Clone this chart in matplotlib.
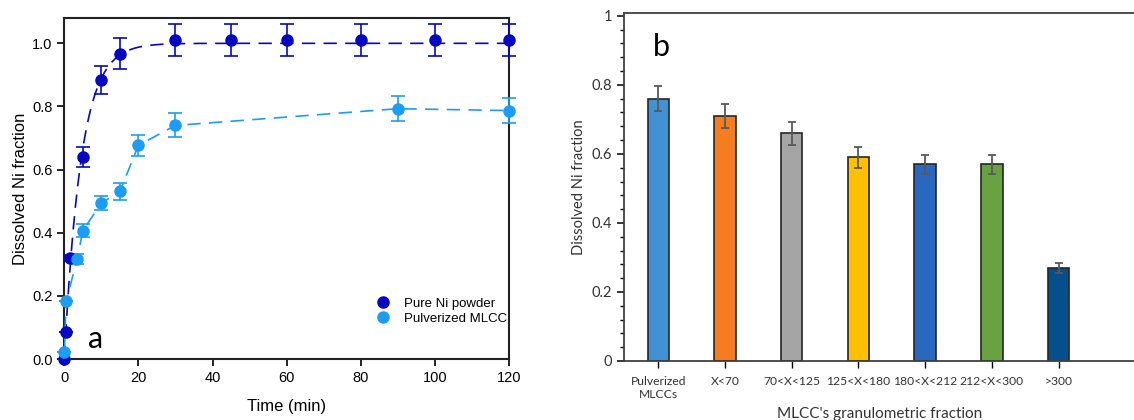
import numpy as np
import matplotlib
matplotlib.use("Agg")
import matplotlib.pyplot as plt
from matplotlib.ticker import MultipleLocator, FormatStrFormatter, FuncFormatter
from matplotlib.lines import Line2D

# ---- Panel a: leaching kinetics ----
ni_time = [0, 0.5, 1.5, 5, 10, 15, 30, 45, 60, 80, 100, 120]
ni_frac = [0.0, 0.087, 0.32, 0.64, 0.885, 0.967, 1.01, 1.01, 1.01, 1.01, 1.01, 1.01]
ni_err = [0.0, 0.0, 0.01, 0.032, 0.044, 0.049, 0.05, 0.05, 0.05, 0.05, 0.05, 0.05]
ni_rate_k = 0.22  # first-order fit constant (1/min)

mlcc_time = [0, 0.5, 3.5, 5, 10, 15, 20, 30, 90, 120]
mlcc_frac = [0.024, 0.183, 0.318, 0.407, 0.494, 0.531, 0.677, 0.740, 0.793, 0.787]
mlcc_err = [0.0, 0.0, 0.016, 0.02, 0.022, 0.026, 0.034, 0.038, 0.04, 0.04]

# ---- Panel b: granulometric fractions ----
fractions = ["Pulverized\nMLCCs", "X<70", "70<X<125", "125<X<180",
             "180<X<212", "212<X<300", ">300"]
fraction_frac = [0.76, 0.71, 0.66, 0.59, 0.57, 0.57, 0.27]
fraction_err = [0.037, 0.035, 0.033, 0.03, 0.028, 0.028, 0.014]
bar_colors = ["#4092d4", "#f47d20", "#a5a5a5", "#ffc000",
              "#2a67bf", "#69a341", "#054f8c"]

NI_COLOR = "#0508c0"
MLCC_COLOR = "#1d9cf4"

fig = plt.figure(figsize=(11.34, 4.2), dpi=100)

# ----- left panel -----
ax = fig.add_axes([0.0567, 0.145, 0.3922, 0.812])
ax.errorbar(ni_time, ni_frac, yerr=ni_err, fmt="o", color=NI_COLOR,
            ms=8, capsize=5, elinewidth=1.2, capthick=1.2, zorder=4,
            clip_on=False)
t_fit = np.linspace(0, 120, 600)
ax.plot(t_fit, 1 - np.exp(-ni_rate_k * t_fit), color=NI_COLOR, lw=1.2,
        dashes=(8, 5), zorder=3)
ax.errorbar(mlcc_time, mlcc_frac, yerr=mlcc_err, fmt="o", color=MLCC_COLOR,
            ms=8, capsize=5, elinewidth=1.2, capthick=1.2, zorder=4,
            clip_on=False)
ax.plot(mlcc_time, mlcc_frac, color=MLCC_COLOR, lw=1.2, dashes=(8, 5),
        zorder=3)

ax.set_xlim(0, 120)
ax.set_ylim(0, 1.08)
ax.xaxis.set_major_locator(MultipleLocator(20))
ax.yaxis.set_major_locator(MultipleLocator(0.2))
ax.yaxis.set_major_formatter(FormatStrFormatter("%.1f"))
for s in ax.spines.values():
    s.set_linewidth(1.5)
    s.set_color("#222222")
ax.tick_params(direction="out", length=5, width=1.2, labelsize=10.5)
for lab in ax.get_xticklabels() + ax.get_yticklabels():
    lab.set_family("Liberation Sans")
ax.set_xlabel("Time (min)", family="Liberation Sans", fontsize=12,
              labelpad=10)
ax.set_ylabel("Dissolved Ni fraction", family="Liberation Sans",
              fontsize=12, labelpad=3)
ax.text(6.3, 0.035, "a", family="Lato", fontsize=22)

leg_handles = [Line2D([], [], ls="none", marker="o", ms=8, color=NI_COLOR),
               Line2D([], [], ls="none", marker="o", ms=8, color=MLCC_COLOR)]
ax.legend(leg_handles, ["Pure Ni powder", "Pulverized MLCC"],
          loc="center left", bbox_to_anchor=(0.683, 0.14), frameon=False,
          prop={"family": "Liberation Sans", "size": 9.5}, borderpad=0,
          handletextpad=1.0, labelspacing=0.2, handlelength=1.2)

# ----- right panel -----
bx = fig.add_axes([0.5505, 0.1405, 0.4495, 0.8275])
xpos = np.arange(len(fractions))
bx.bar(xpos, fraction_frac, width=0.32, color=bar_colors,
       edgecolor="#262626", linewidth=1.2, zorder=2)
bx.errorbar(xpos, fraction_frac, yerr=fraction_err, fmt="none",
            ecolor="#595959", elinewidth=1.3, capsize=2.7, capthick=1.3,
            zorder=3)
bx.set_xlim(-0.51, 7.13)
bx.set_ylim(0, 1.007)
bx.set_xticks(xpos)
bx.set_xticklabels(fractions, linespacing=1.2)
bx.yaxis.set_major_locator(MultipleLocator(0.2))
bx.yaxis.set_minor_locator(MultipleLocator(0.04))
bx.yaxis.set_major_formatter(FuncFormatter(lambda v, p: f"{v:g}"))
bx.spines["right"].set_visible(False)
for name in ("left", "bottom", "top"):
    bx.spines[name].set_linewidth(1.3)
    bx.spines[name].set_color("#404040")
bx.tick_params(axis="y", which="major", direction="out", length=5,
               width=1.1, labelsize=10.5)
bx.tick_params(axis="y", which="minor", direction="out", length=3,
               width=1.0)
bx.tick_params(axis="x", direction="out", length=5, width=1.0,
               labelsize=8.7, pad=6)
for lab in bx.get_xticklabels() + bx.get_yticklabels():
    lab.set_family("Lato")
    lab.set_color("#333333")
bx.set_xlabel("MLCC's granulometric fraction", family="Lato",
              fontsize=11, color="#333333", labelpad=5)
bx.set_ylabel("Dissolved Ni fraction", family="Lato", fontsize=10.5,
              color="#333333", labelpad=4)
bx.text(-0.08, 0.885, "b", family="Lato", fontsize=22)

fig.savefig("out.png", dpi=100)
